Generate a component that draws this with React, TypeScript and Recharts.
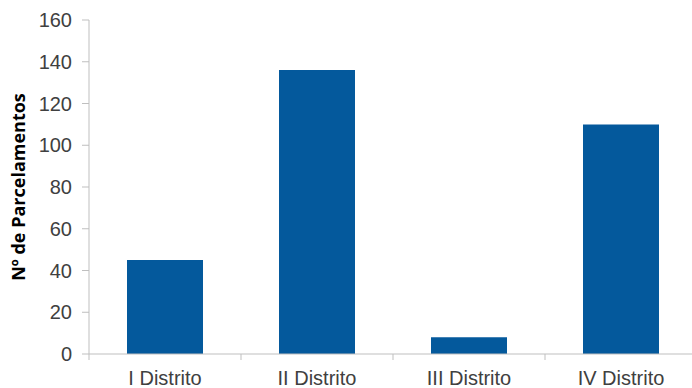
import { Bar, BarChart, Label, XAxis, YAxis } from 'recharts';

const districts = ['I Distrito', 'II Distrito', 'III Distrito', 'IV Distrito'];
const parcelamentos = [45, 136, 8, 110];
const yTicks = [0, 20, 40, 60, 80, 100, 120, 140, 160];

const rows = districts.map((name, i) => ({ name, value: parcelamentos[i] }));

const FONT = '"Liberation Sans", Arial, sans-serif';
const AXIS = '#bfbfbf';
const TEXT = '#404040';

// category ticks sit on the band boundaries, labels in the middle
function DistrictTick(props: any) {
  const { x, y, payload } = props;
  const half = payload.offset ?? 0;
  return (
    <g>
      <line x1={x - half} x2={x - half} y1={y - 8} y2={y - 2} stroke={AXIS} />
      <text x={x} y={y + 23} textAnchor="middle" fill={TEXT} fontSize={20} fontFamily={FONT}>
        {payload.value}
      </text>
    </g>
  );
}

function YTitle(props: any) {
  const { viewBox } = props;
  const cx = viewBox.x + 18;
  const cy = viewBox.y + viewBox.height / 2;
  return (
    <text
      x={cx}
      y={cy}
      transform={`rotate(-90, ${cx}, ${cy})`}
      textAnchor="middle"
      dominantBaseline="central"
      fontSize={18}
      fontWeight="bold"
      fontFamily='"Open Sans", sans-serif'
      fill="#000"
    >
      Nº de Parcelamentos
    </text>
  );
}

export default function App() {
  return (
    <div style={{ position: 'absolute', left: 0, top: 0, width: 692, height: 388, overflow: 'hidden', background: '#fff' }}>
      <BarChart
        width={700}
        height={388}
        data={rows}
        margin={{ top: 20, right: 3, bottom: 0, left: 0 }}
        barCategoryGap="25%"
      >
        <XAxis
          dataKey="name"
          height={34}
          axisLine={{ stroke: AXIS }}
          tickLine={false}
          tick={<DistrictTick />}
          interval={0}
        />
        <YAxis
          width={89}
          domain={[0, 160]}
          ticks={yTicks}
          interval={0}
          axisLine={{ stroke: AXIS }}
          tickLine={{ stroke: AXIS }}
          tickSize={7}
          tickMargin={10}
          tick={{ fill: TEXT, fontSize: 20, fontFamily: FONT }}
        >
          <Label content={<YTitle />} />
        </YAxis>
        <Bar dataKey="value" fill="#04599c" isAnimationActive={false} />
      </BarChart>
    </div>
  );
}
